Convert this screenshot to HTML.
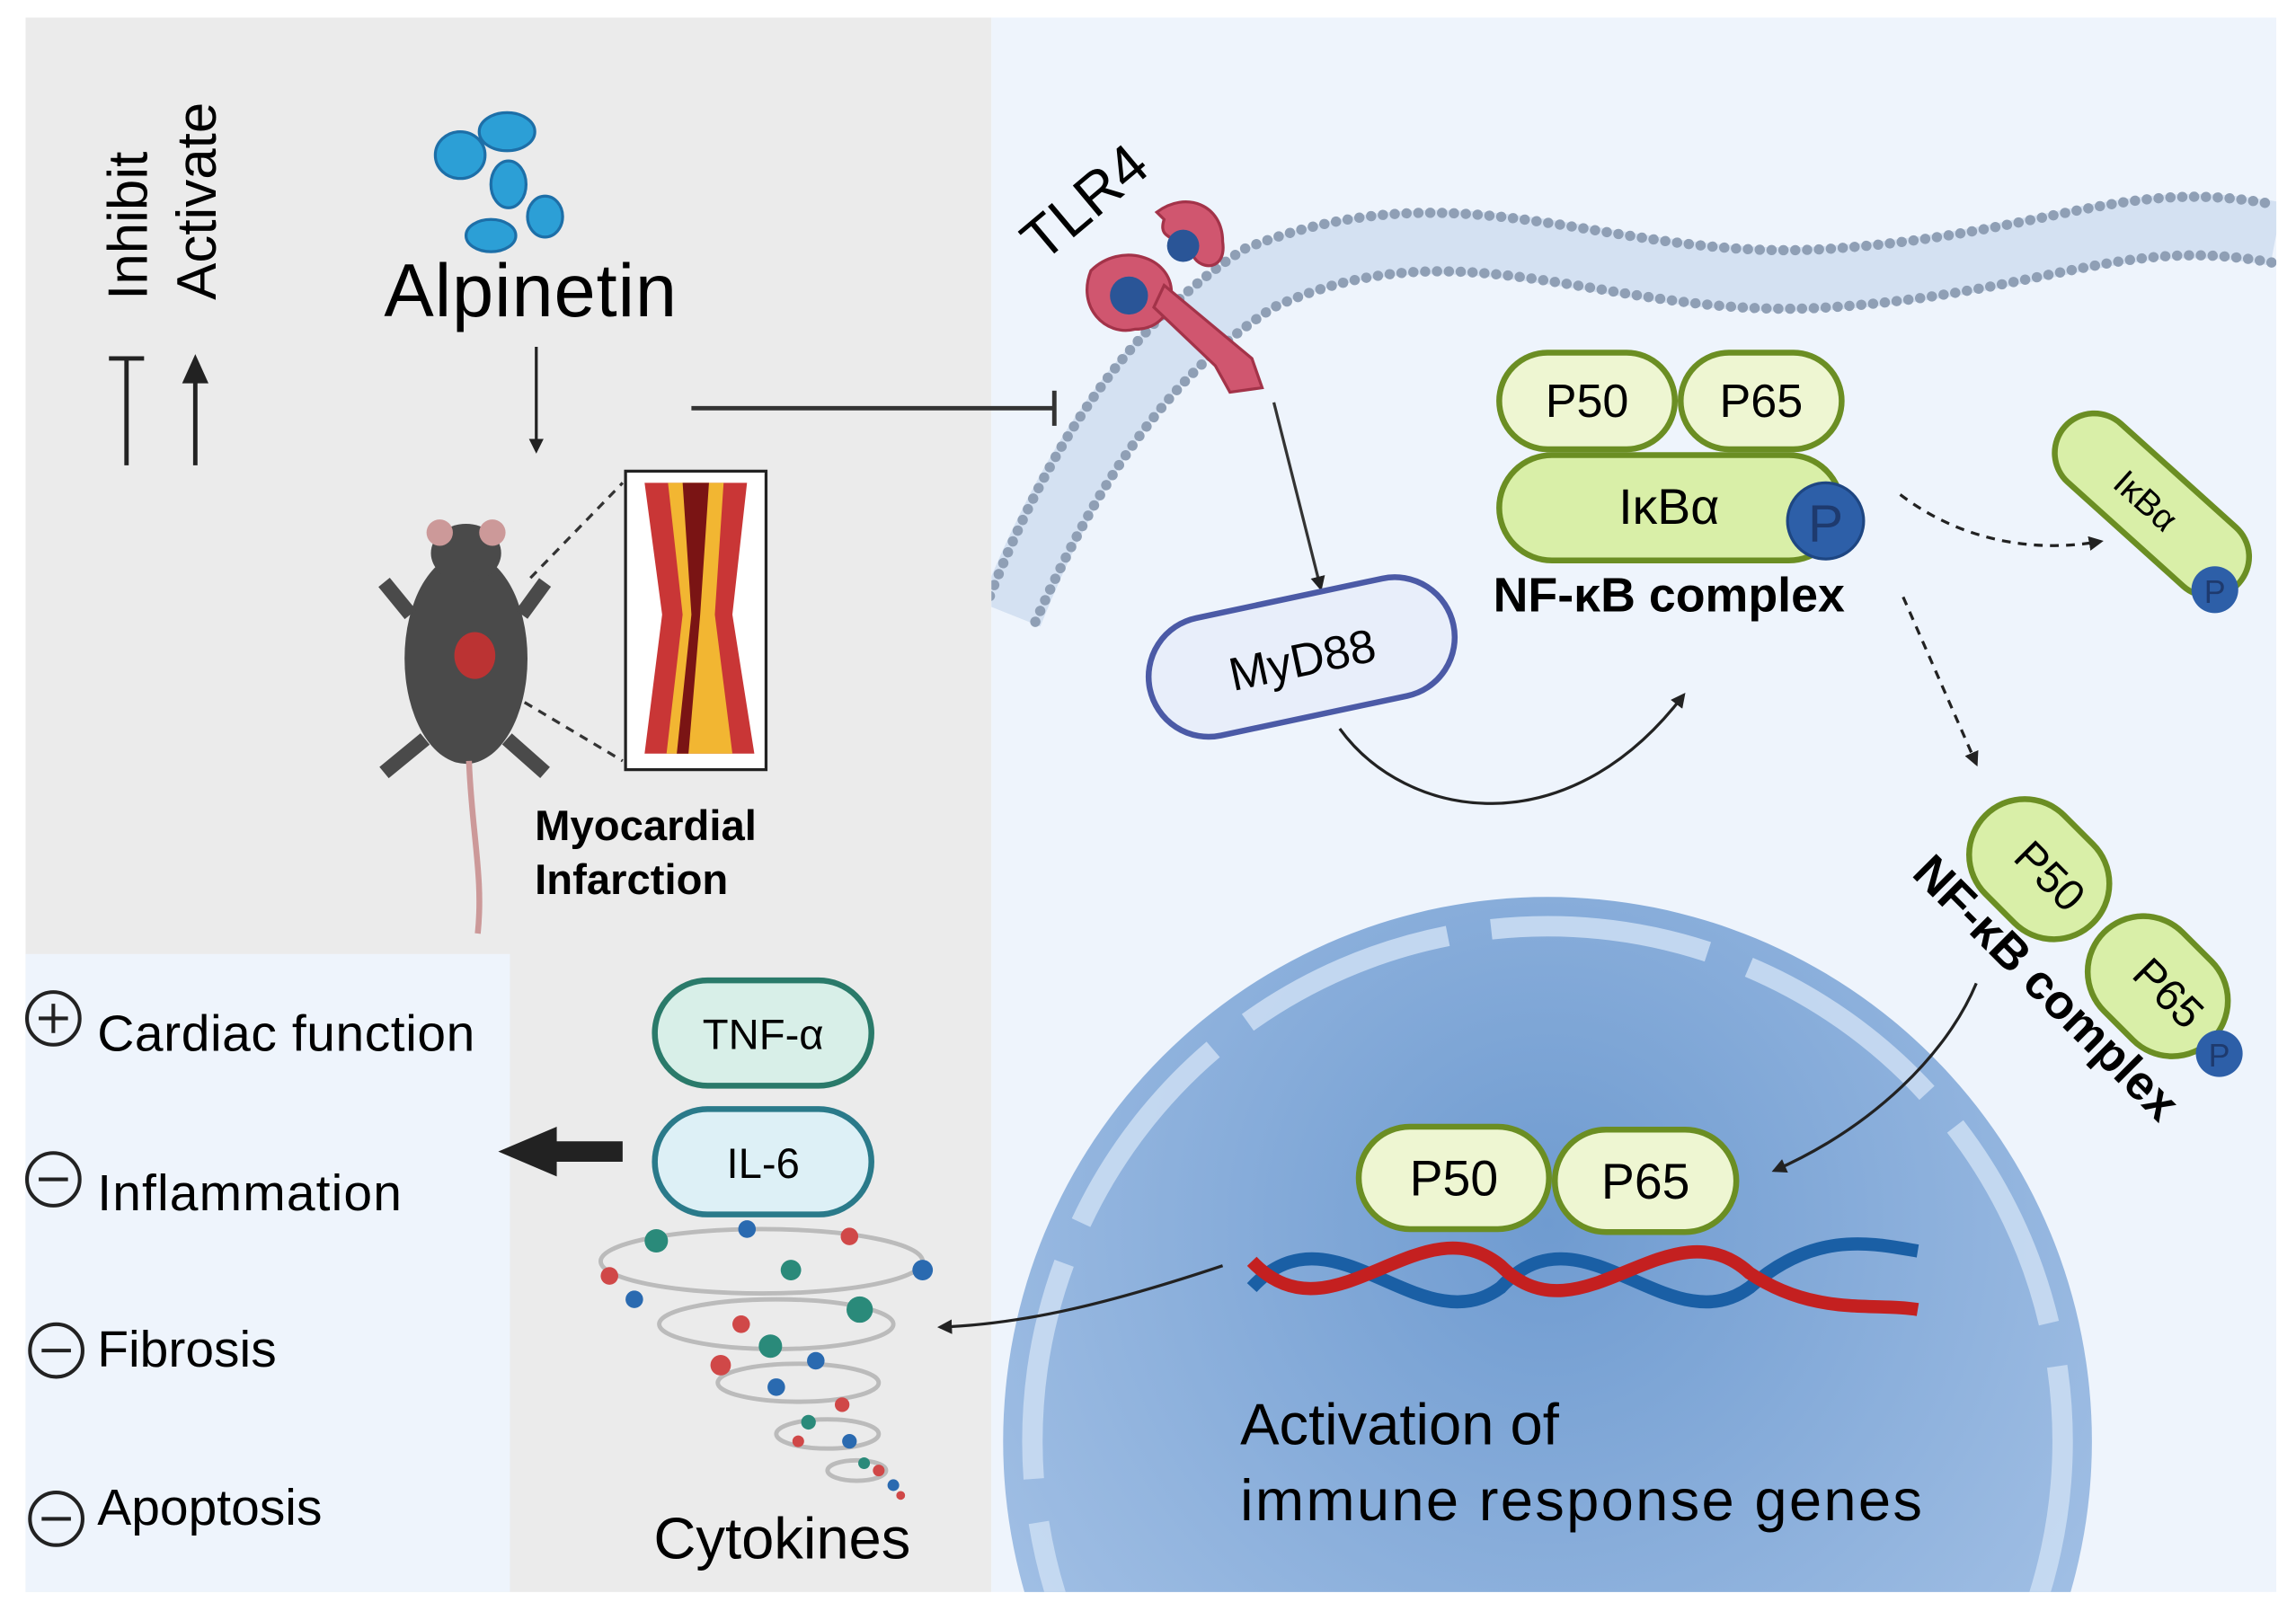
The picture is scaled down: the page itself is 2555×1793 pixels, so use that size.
<!DOCTYPE html>
<html><head><meta charset="utf-8"><style>
html,body{margin:0;padding:0;background:#fff;width:2555px;height:1793px;overflow:hidden;position:relative;}
svg{display:block;position:absolute;left:0;top:0;overflow:hidden;}
text{font-family:"Liberation Sans",sans-serif;}
</style></head><body>
<svg width="2555" height="1793" viewBox="0 0 1568 1101" xmlns="http://www.w3.org/2000/svg">
<defs>
<radialGradient id="nuc" cx="50%" cy="30%" r="70%">
<stop offset="0" stop-color="#6f9bd0"/><stop offset="1" stop-color="#a9c5e8"/>
</radialGradient>
<marker id="ah" markerWidth="10" markerHeight="10" refX="8" refY="5" orient="auto" markerUnits="userSpaceOnUse"><path d="M0,0 L10,5 L0,10 Z" fill="#222"/></marker>
<clipPath id="rc"><rect x="677" y="12" width="878" height="1076"/></clipPath>
</defs>
<rect width="1568" height="1101" fill="#fff"/>
<rect x="17" y="12" width="660" height="1076" fill="#ebebeb"/>
<rect x="677" y="12" width="878" height="1076" fill="#eef4fc"/>
<rect x="17" y="652" width="331" height="436" fill="#eef4fc"/>

<g clip-path="url(#rc)">
<circle cx="1057" cy="985" r="372" fill="url(#nuc)"/>
<circle cx="1057" cy="985" r="352" fill="none" stroke="#c9dcf2" stroke-width="14" stroke-dasharray="150 30" opacity="0.9"/>
<path d="M690,420 C730,320 780,240 860,190 C1000,130 1100,200 1250,190 C1400,180 1450,140 1555,160" fill="none" stroke="#d4e1f2" stroke-width="44"/>
<path d="M673,415 C715,305 770,222 850,170 C1000,110 1100,180 1250,170 C1400,160 1450,120 1555,140" fill="none" stroke="#8f9fb5" stroke-width="7" stroke-dasharray="0.1 8" stroke-linecap="round"/>
<path d="M707,425 C747,335 795,258 870,210 C1000,150 1100,220 1250,210 C1400,200 1450,160 1555,180" fill="none" stroke="#8f9fb5" stroke-width="7" stroke-dasharray="0.1 8" stroke-linecap="round"/>
</g>

<text transform="translate(100,205) rotate(-90)" font-size="38">Inhibit</text>
<text transform="translate(147,205) rotate(-90)" font-size="38">Activate</text>
<line x1="86" y1="245" x2="86" y2="318" stroke="#222" stroke-width="3"/>
<line x1="74" y1="245" x2="98" y2="245" stroke="#222" stroke-width="3"/>
<line x1="133" y1="255" x2="133" y2="318" stroke="#222" stroke-width="3"/>
<path d="M124,262 L133,242 L142,262 Z" fill="#222"/>

<g fill="#2c9fd6" stroke="#1d6fa8" stroke-width="2">
<ellipse cx="314" cy="106" rx="17" ry="16"/>
<ellipse cx="346" cy="90" rx="19" ry="13"/>
<ellipse cx="347" cy="126" rx="12" ry="16"/>
<ellipse cx="372" cy="148" rx="12" ry="14"/>
<ellipse cx="335" cy="161" rx="17" ry="11"/>
</g>
<text x="262" y="216" font-size="51" textLength="200">Alpinetin</text>
<line x1="366" y1="237" x2="366" y2="308" stroke="#222" stroke-width="2" marker-end="url(#ah)"/>
<line x1="472" y1="279" x2="720" y2="279" stroke="#333" stroke-width="3"/>
<line x1="720" y1="267" x2="720" y2="291" stroke="#333" stroke-width="3"/>

<ellipse cx="318" cy="450" rx="42" ry="72" fill="#4a4a4a"/>
<ellipse cx="318" cy="378" rx="24" ry="20" fill="#4a4a4a"/>
<circle cx="300" cy="364" r="9" fill="#c99"/><circle cx="336" cy="364" r="9" fill="#c99"/>
<path d="M280,420 L262,398 M356,420 L372,398 M290,505 L262,528 M346,505 L372,528" stroke="#4a4a4a" stroke-width="10"/>
<ellipse cx="324" cy="448" rx="14" ry="16" fill="#b33"/>
<path d="M320,520 C322,570 330,600 326,638" stroke="#c99" stroke-width="4" fill="none"/>
<line x1="362" y1="395" x2="425" y2="330" stroke="#333" stroke-width="2" stroke-dasharray="6 5"/>
<line x1="358" y1="480" x2="425" y2="520" stroke="#333" stroke-width="2" stroke-dasharray="6 5"/>
<rect x="427" y="322" width="96" height="204" fill="#fff" stroke="#222" stroke-width="2"/>
<path d="M440,330 L510,330 L500,420 L515,515 L440,515 L452,420 Z" fill="#c93636"/>
<path d="M456,330 L494,330 L488,420 L500,515 L455,515 L466,420 Z" fill="#f2b632"/>
<path d="M466,330 L484,330 L478,420 L470,515 L462,515 L472,420 Z" fill="#7a1414"/>
<text x="365" y="574" font-size="29" font-weight="bold">Myocardial</text>
<text x="365" y="611" font-size="29" font-weight="bold">Infarction</text>

<text transform="translate(712,180) rotate(-40)" font-size="40">TLR4</text>
<g fill="#d0566f" stroke="#a33349" stroke-width="2">
<path d="M790,145 C810,130 835,140 835,165 C838,185 820,185 815,175 C805,160 790,165 795,150 Z"/>
<path d="M745,185 C765,165 800,175 800,200 C800,215 790,225 775,225 C755,230 735,210 745,185 Z"/>
<path d="M795,195 L855,245 L862,265 L840,268 L830,250 L788,210 Z"/>
</g>
<circle cx="808" cy="168" r="11" fill="#2a5597"/>
<circle cx="771" cy="202" r="13" fill="#2a5597"/>
<line x1="870" y1="275" x2="902" y2="402" stroke="#333" stroke-width="2" marker-end="url(#ah)"/>

<rect x="783" y="408" width="212" height="82" rx="41" transform="rotate(-12 889 449)" fill="#e8eefa" stroke="#4b5aa6" stroke-width="4"/>
<text x="889" y="462" font-size="32" text-anchor="middle" transform="rotate(-12 889 449)">MyD88</text>
<path d="M915,498 C960,560 1070,580 1150,475" fill="none" stroke="#222" stroke-width="2" marker-end="url(#ah)"/>

<g stroke="#6b8e23" stroke-width="4" fill="#eef6d2">
<rect x="1024" y="241" width="120" height="66" rx="33"/>
<rect x="1148" y="241" width="110" height="66" rx="33"/>
<rect x="1024" y="311" width="234" height="72" rx="36" fill="#d9efa8"/>
</g>
<text x="1084" y="285" font-size="32" text-anchor="middle">P50</text>
<text x="1203" y="285" font-size="32" text-anchor="middle">P65</text>
<text x="1140" y="358" font-size="34" text-anchor="middle">IκBα</text>
<circle cx="1247" cy="356" r="26" fill="#2d5fa8" stroke="#1e4682" stroke-width="2"/>
<text x="1247" y="370" font-size="36" text-anchor="middle" fill="#1e3a6e">P</text>
<text x="1140" y="418" font-size="33" font-weight="bold" text-anchor="middle">NF-κB complex</text>
<path d="M1298,338 C1340,370 1390,378 1435,370" fill="none" stroke="#222" stroke-width="2" stroke-dasharray="6 5" marker-end="url(#ah)"/>
<path d="M1300,408 L1350,522" fill="none" stroke="#222" stroke-width="2" stroke-dasharray="6 5" marker-end="url(#ah)"/>

<g transform="translate(1470,345) rotate(42)">
<rect x="-80" y="-27" width="160" height="54" rx="27" fill="#d9efa8" stroke="#6b8e23" stroke-width="4"/>
<text x="-5" y="9" font-size="24" text-anchor="middle">IκBα</text>
</g>
<circle cx="1513" cy="403" r="16" fill="#2d5fa8"/>
<text x="1513" y="412" font-size="22" text-anchor="middle" fill="#1e3a6e">P</text>

<g stroke="#6b8e23" stroke-width="4" fill="#d9efa8">
<rect x="-52" y="-38" width="104" height="76" rx="38" transform="translate(1393,594) rotate(45)"/>
<rect x="-52" y="-38" width="104" height="76" rx="38" transform="translate(1474,674) rotate(45)"/>
</g>
<text transform="translate(1393,606) rotate(45)" font-size="30" text-anchor="middle">P50</text>
<text transform="translate(1474,686) rotate(45)" font-size="30" text-anchor="middle">P65</text>
<circle cx="1516" cy="720" r="16" fill="#2d5fa8"/>
<text x="1516" y="729" font-size="22" text-anchor="middle" fill="#1e3a6e">P</text>
<text transform="translate(1305,598) rotate(45)" font-size="33" font-weight="bold">NF-κB complex</text>
<path d="M1350,672 C1330,720 1280,770 1212,800" fill="none" stroke="#222" stroke-width="2" marker-end="url(#ah)"/>

<g stroke="#6b8e23" stroke-width="4" fill="#eef6d2">
<rect x="928" y="770" width="130" height="70" rx="35"/>
<rect x="1062" y="772" width="124" height="70" rx="35"/>
</g>
<text x="993" y="817" font-size="34" text-anchor="middle">P50</text>
<text x="1124" y="819" font-size="34" text-anchor="middle">P65</text>
<path d="M855,880 C910,820 970,920 1025,880 C1080,820 1140,920 1195,880 C1240,840 1280,850 1310,855" fill="none" stroke="#1a5fa5" stroke-width="9"/>
<path d="M855,862 C910,920 970,820 1025,865 C1080,920 1140,820 1195,870 C1240,900 1280,890 1310,895" fill="none" stroke="#c42020" stroke-width="9"/>
<text x="847" y="987" font-size="40">Activation of</text>
<text x="847" y="1039" font-size="40" textLength="466">immune response genes</text>
<path d="M835,865 C760,890 700,905 642,907" fill="none" stroke="#222" stroke-width="2" marker-end="url(#ah)"/>

<rect x="447" y="670" width="148" height="72" rx="36" fill="#d8efe8" stroke="#2a7a6a" stroke-width="4"/>
<text x="521" y="717" font-size="29" text-anchor="middle">TNF-α</text>
<rect x="447" y="758" width="148" height="72" rx="36" fill="#ddf0f6" stroke="#2a7a8a" stroke-width="4"/>
<text x="521" y="805" font-size="29" text-anchor="middle">IL-6</text>
<g fill="none" stroke="#bbb" stroke-width="3">
<ellipse cx="520" cy="862" rx="110" ry="22"/>
<ellipse cx="530" cy="905" rx="80" ry="17"/>
<ellipse cx="545" cy="945" rx="55" ry="13"/>
<ellipse cx="565" cy="980" rx="35" ry="10"/>
<ellipse cx="585" cy="1005" rx="20" ry="7"/>
</g>
<g>
<circle cx="448" cy="848" r="8" fill="#2a8a7a"/><circle cx="510" cy="840" r="6" fill="#2a6ab0"/><circle cx="580" cy="845" r="6" fill="#d04848"/>
<circle cx="630" cy="868" r="7" fill="#2a6ab0"/><circle cx="416" cy="872" r="6" fill="#d04848"/><circle cx="540" cy="868" r="7" fill="#2a8a7a"/>
<circle cx="433" cy="888" r="6" fill="#2a6ab0"/><circle cx="587" cy="895" r="9" fill="#2a8a7a"/><circle cx="506" cy="905" r="6" fill="#d04848"/>
<circle cx="526" cy="920" r="8" fill="#2a8a7a"/><circle cx="492" cy="933" r="7" fill="#d04848"/><circle cx="557" cy="930" r="6" fill="#2a6ab0"/>
<circle cx="530" cy="948" r="6" fill="#2a6ab0"/><circle cx="575" cy="960" r="5" fill="#d04848"/><circle cx="552" cy="972" r="5" fill="#2a8a7a"/>
<circle cx="580" cy="985" r="5" fill="#2a6ab0"/><circle cx="545" cy="985" r="4" fill="#d04848"/><circle cx="600" cy="1005" r="4" fill="#d04848"/>
<circle cx="590" cy="1000" r="4" fill="#2a8a7a"/><circle cx="610" cy="1015" r="4" fill="#2a6ab0"/><circle cx="615" cy="1022" r="3" fill="#d04848"/>
</g>
<text x="534" y="1065" font-size="40" text-anchor="middle">Cytokines</text>
<path d="M425,787 L375,787" stroke="#222" stroke-width="14"/>
<path d="M340,787 L380,770 L380,804 Z" fill="#222"/>

<g fill="none" stroke="#222" stroke-width="2.5">
<circle cx="36" cy="696" r="18"/><line x1="26" y1="696" x2="46" y2="696"/><line x1="36" y1="686" x2="36" y2="706"/>
<circle cx="36" cy="806" r="18"/><line x1="26" y1="806" x2="46" y2="806"/>
<circle cx="38" cy="923" r="18"/><line x1="28" y1="923" x2="48" y2="923"/>
<circle cx="38" cy="1038" r="18"/><line x1="28" y1="1038" x2="48" y2="1038"/>
</g>
<text x="66" y="718" font-size="35" textLength="258">Cardiac function</text>
<text x="66" y="827" font-size="35" textLength="208">Inflammation</text>
<text x="66" y="934" font-size="35">Fibrosis</text>
<text x="66" y="1042" font-size="35">Apoptosis</text>
</svg>
</body></html>
